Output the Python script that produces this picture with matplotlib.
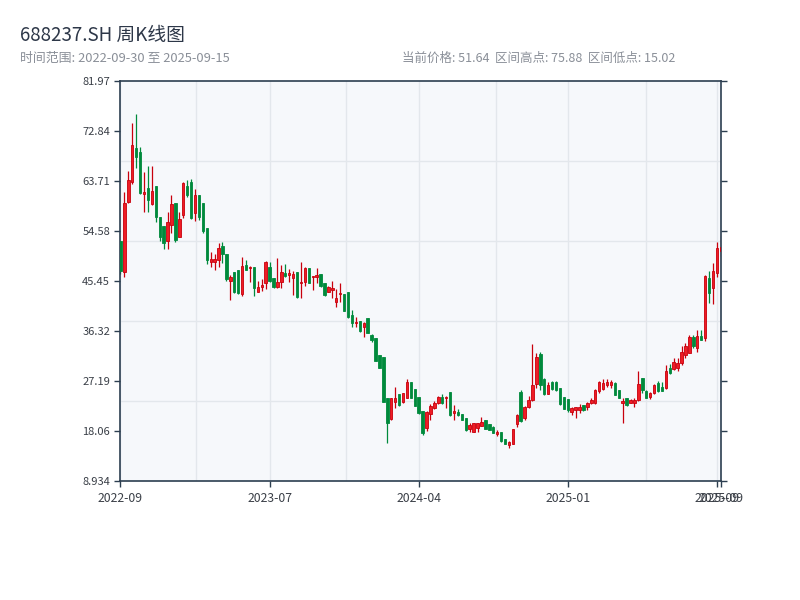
import numpy as np
import matplotlib
matplotlib.use("Agg")
import matplotlib.pyplot as plt

plt.rcParams['font.family'] = ['Noto Sans CJK SC', 'DejaVu Sans']

# weekly OHLC
opens = [52.7, 47.16, 59.82, 63.59, 69.67, 69.0, 61.28, 62.37, 59.51, 62.8,
         57.08, 55.56, 52.82, 55.68, 59.63, 53.55, 57.5, 62.86, 63.5, 57.81,
         61.15, 59.63, 55.19, 48.98, 48.98, 49.29, 51.9, 50.32, 45.51, 47.16,
         47.46, 43.14, 48.37, 47.77, 47.95, 43.5, 44.42, 45.03, 48.07, 45.94,
         44.42, 45.33, 46.85, 46.55, 45.94, 47.03, 45.03, 45.33, 47.76, 46.18,
         46.24, 46.73, 45.09, 43.5, 43.81, 41.56, 43.02, 43.02, 43.5, 39.24,
         37.72, 38.21, 37.11, 38.76, 35.59, 34.98, 31.94, 31.58, 24.03, 20.19,
         23.42, 24.76, 23.42, 24.15, 27.07, 25.73, 24.2, 21.7, 18.55, 21.11,
         22.32, 23.24, 24.33, 24.03, 25.18, 21.29, 21.59, 21.1, 20.5, 18.37,
         17.94, 18.55, 19.04, 20.07, 19.34, 18.85, 17.58, 17.94, 16.54, 15.51,
         15.75, 19.28, 25.2, 20.38, 22.5, 23.72, 26.65, 32.2, 27.5, 24.9,
         27.07, 27.0, 25.85, 24.2, 23.9, 21.59, 21.9, 21.9, 22.81, 22.51,
         23.11, 23.24, 25.37, 25.67, 26.46, 26.46, 26.89, 25.55, 23.11, 24.03,
         23.24, 23.11, 23.72, 27.8, 25.43, 24.33, 25.06, 26.77, 26.16, 25.85,
         29.63, 29.32, 29.51, 30.42, 31.94, 32.37, 35.17, 33.16, 35.41, 34.98,
         45.94, 44.11, 46.85, 50.9]
highs = [52.8, 61.64, 65.54, 74.24, 75.88, 69.86, 65.42, 66.45, 66.45, 62.8,
         57.08, 55.56, 58.11, 61.15, 59.63, 57.99, 63.47, 63.83, 64.08, 62.25,
         61.15, 59.63, 55.19, 50.81, 50.32, 52.33, 52.63, 50.32, 46.55, 47.16,
         47.46, 49.83, 49.29, 48.19, 47.95, 45.45, 45.82, 49.1, 49.0, 45.94,
         49.59, 48.37, 48.5, 47.64, 47.34, 47.03, 48.86, 47.95, 47.76, 46.43,
         47.76, 46.73, 45.09, 44.6, 45.45, 43.99, 45.09, 43.02, 43.5, 40.16,
         38.88, 38.21, 38.03, 38.76, 35.71, 34.98, 31.94, 31.58, 24.03, 24.1,
         26.04, 24.76, 24.94, 27.56, 27.07, 25.73, 24.33, 21.8, 21.72, 22.99,
         23.54, 24.45, 24.76, 24.45, 25.18, 22.81, 22.08, 21.17, 20.5, 19.58,
         19.5, 19.46, 20.68, 20.07, 19.4, 18.9, 18.25, 17.94, 16.54, 16.24,
         18.49, 21.17, 25.6, 22.63, 24.4, 33.95, 32.25, 32.55, 27.68, 27.0,
         27.2, 27.2, 25.9, 24.3, 23.91, 22.51, 22.51, 22.99, 22.9, 23.42,
         24.03, 25.67, 27.19, 27.5, 27.5, 27.37, 26.95, 25.6, 24.03, 24.1,
         23.85, 24.03, 29.08, 27.8, 25.5, 25.25, 26.65, 27.19, 27.07, 30.11,
         30.24, 31.33, 31.33, 33.58, 34.07, 35.59, 35.59, 36.5, 36.5, 46.55,
         47.34, 48.68, 52.63, 53.6]
lows = [46.8, 46.24, 59.7, 63.16, 66.15, 61.34, 58.11, 58.11, 59.4, 56.16,
        52.82, 51.36, 51.36, 54.16, 52.63, 53.5, 56.89, 60.73, 56.71, 56.47,
        56.59, 54.16, 48.62, 48.07, 47.4, 48.07, 48.8, 45.51, 42.04, 43.2,
        43.08, 42.77, 47.4, 45.33, 42.77, 43.5, 43.69, 43.93, 45.33, 44.23,
        44.11, 44.23, 46.24, 45.21, 42.9, 42.29, 42.41, 44.6, 45.0, 43.87,
        45.03, 44.42, 42.77, 43.38, 42.29, 40.77, 41.68, 39.97, 38.76, 37.11,
        37.11, 36.2, 35.29, 35.9, 34.25, 30.84, 29.51, 23.3, 15.8, 20.1,
        22.2, 22.69, 23.24, 24.15, 24.03, 22.63, 21.1, 17.4, 18.12, 20.07,
        22.08, 23.07, 23.07, 22.32, 20.86, 20.07, 20.8, 20.0, 18.12, 17.82,
        17.9, 17.94, 18.98, 18.43, 18.25, 17.64, 17.21, 16.12, 15.69, 15.02,
        15.63, 18.73, 19.65, 20.07, 22.3, 23.6, 25.85, 25.5, 24.64, 24.76,
        25.55, 25.3, 22.9, 22.0, 21.6, 20.99, 20.5, 21.41, 21.78, 21.9,
        22.93, 22.93, 25.06, 25.55, 26.04, 25.98, 24.64, 24.03, 19.59, 22.69,
        23.11, 22.51, 23.6, 24.94, 24.03, 23.85, 24.76, 25.25, 25.37, 25.73,
        28.41, 29.2, 29.02, 30.11, 31.33, 32.25, 33.16, 32.55, 34.68, 34.56,
        41.5, 41.25, 46.12, 50.1]
closes = [47.3, 59.63, 63.89, 70.28, 68.15, 61.5, 61.64, 60.24, 61.89, 57.08,
          53.5, 52.33, 56.16, 59.51, 52.9, 56.71, 63.29, 61.15, 57.0, 61.15,
          57.2, 54.5, 49.2, 49.41, 49.47, 51.42, 50.38, 45.8, 46.24, 43.5,
          43.3, 48.25, 47.4, 48.07, 44.11, 44.42, 44.72, 48.98, 45.4, 44.3,
          45.33, 47.03, 46.37, 46.85, 46.73, 42.5, 45.33, 47.76, 45.03, 46.43,
          46.55, 44.5, 42.9, 44.42, 44.11, 42.29, 43.32, 40.0, 38.9, 37.72,
          38.03, 36.25, 37.72, 35.95, 34.68, 30.9, 29.6, 23.4, 19.59, 24.03,
          24.03, 22.75, 24.94, 27.07, 24.1, 22.7, 21.3, 17.7, 21.47, 22.63,
          23.24, 24.21, 23.24, 24.33, 20.9, 21.72, 20.98, 20.07, 18.2, 19.16,
          19.46, 19.46, 19.77, 18.5, 18.3, 17.7, 17.94, 16.2, 15.75, 15.99,
          18.4, 20.98, 19.9, 22.51, 23.7, 26.46, 31.51, 26.4, 24.8, 26.5,
          25.8, 25.5, 23.0, 22.1, 21.9, 22.32, 22.45, 22.51, 21.85, 23.24,
          23.72, 25.55, 27.07, 26.89, 27.07, 26.95, 24.7, 24.1, 23.6, 22.75,
          23.72, 23.72, 26.65, 25.55, 24.1, 24.94, 26.46, 25.3, 25.4, 29.08,
          28.59, 30.72, 30.54, 32.55, 33.58, 35.17, 33.58, 35.41, 34.75, 46.43,
          43.2, 47.34, 51.42, 51.64]

tick_labels = ["2022-09", "2023-07", "2024-04", "2025-01", "2025-09", "2025-09"]
code = "688237.SH"
start_date = "2022-09-30"
end_date = "2025-09-15"

o = np.array(opens)
h = np.array(highs)
l = np.array(lows)
c = np.array(closes)
n = len(c)
x = np.arange(n)

up_face = "#ee1c25"
up_edge = "#c8000c"
down_col = "#008a3c"

fig = plt.figure(figsize=(8, 6), dpi=100)
ax = fig.add_axes([0.1506, 0.1983, 0.7504, 0.6667])
ax.set_facecolor("#f6f8fb")

up = c >= o
down = ~up

# wicks
ax.vlines(x[up], l[up], h[up], color=up_edge, linewidth=0.9, zorder=2)
ax.vlines(x[down], l[down], h[down], color=down_col, linewidth=0.9, zorder=2)

# bodies
body_lo = np.minimum(o, c)
body_h = np.maximum(np.abs(c - o), 0.15)
ax.bar(x[up], body_h[up], bottom=body_lo[up], width=0.62,
       color=up_face, edgecolor=up_edge, linewidth=0.6, zorder=3)
ax.bar(x[down], body_h[down], bottom=body_lo[down], width=0.62,
       color=down_col, edgecolor=down_col, linewidth=0.6, zorder=3)

lo, hi = l.min(), h.max()
pad = (hi - lo) * 0.1
ymin, ymax = lo - pad, hi + pad
ax.set_ylim(ymin, ymax)
ax.set_xlim(0, n - 1)

yt = np.linspace(ymin, ymax, 9)
ax.set_yticks(yt)
ax.set_yticklabels(["%.4g" % v for v in yt])
ax.set_yticks(np.linspace(ymin, ymax, 6)[1:-1], minor=True)

step = n // 4
xt = list(range(0, n, step)) + [n - 1]
ax.set_xticks(xt)
ax.set_xticklabels(tick_labels)
ax.set_xticks(np.linspace(0, n - 1, 9)[1::2], minor=True)

ax.grid(False)
ax.grid(True, which="minor", color="#e3e7ec", linewidth=1.0, zorder=0)
ax.xaxis.grid(True, which="major", color="#e3e7ec", linewidth=1.0, zorder=0)
ax.set_axisbelow(True)

spine_col = "#2c3e50"
for s in ax.spines.values():
    s.set_color(spine_col)
    s.set_linewidth(1.2)

ax.tick_params(axis="both", which="major", direction="out", length=4,
               width=1.0, color=spine_col, labelsize=8, labelcolor="#3a3f47")
ax.tick_params(axis="x", which="major", labelsize=8.8, pad=4)
ax.tick_params(axis="y", which="major", right=True)
ax.tick_params(axis="both", which="minor", length=0)

fig.text(0.025, 0.941, code + " 周K线图", fontsize=13.5, color="#2d3748",
         va="center", ha="left")
fig.text(0.025, 0.903, "时间范围: %s 至 %s" % (start_date, end_date),
         fontsize=9.3, color="#8a8f98", va="center", ha="left")
fig.text(0.503, 0.903, "当前价格: %.2f  区间高点: %.2f  区间低点: %.2f" % (c[-1], hi, lo),
         fontsize=9, color="#8a8f98", va="center", ha="left")

fig.savefig("out.png", dpi=100)
